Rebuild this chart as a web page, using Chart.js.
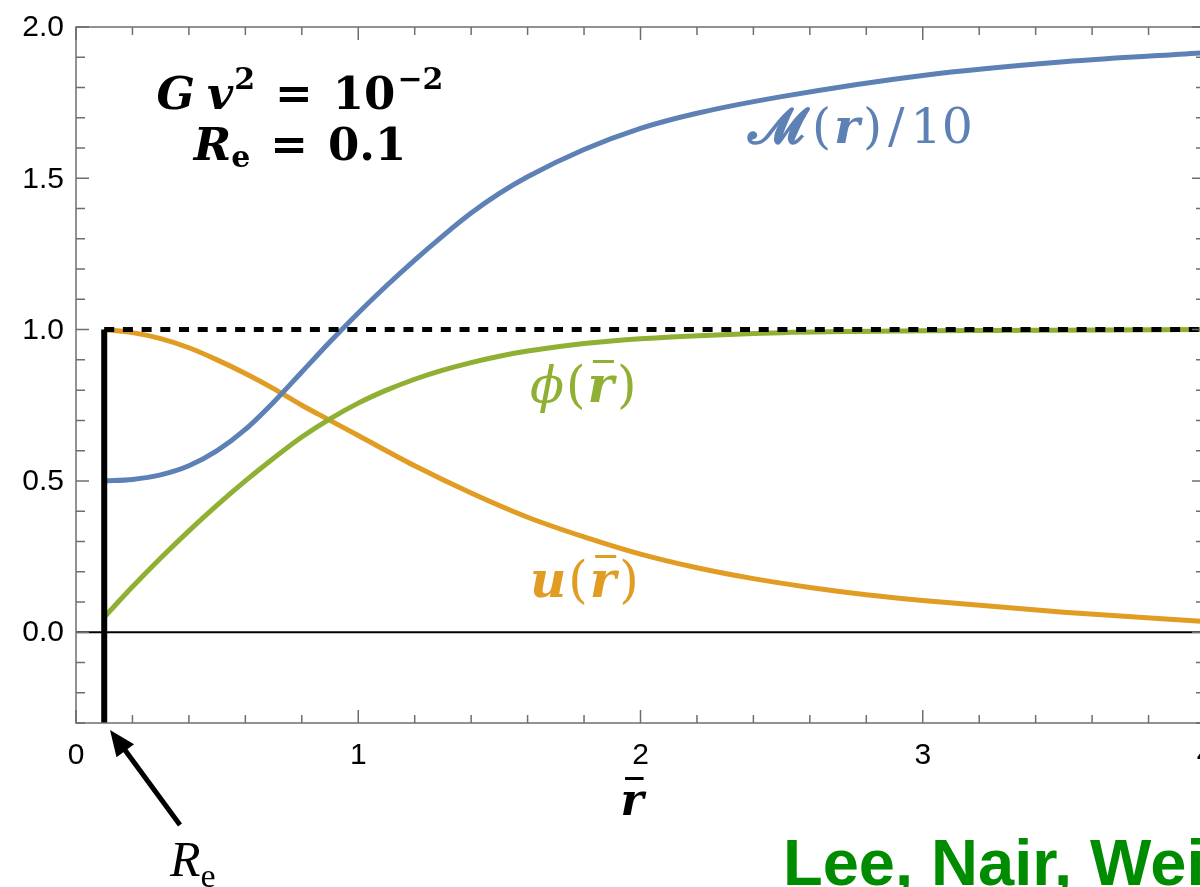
<!DOCTYPE html>
<html lang="en">
<head>
    <meta charset="UTF-8">
    <title>Profiles</title>
    <style>
        html, body {
            margin: 0;
            padding: 0;
            overflow: hidden;
            background: #fff;
        }
        #chartContainer {
            width: 1228px;
            height: 887px;
        }
    </style>
</head>
<body>

<div id="chartContainer">
    <canvas id="myChart"></canvas>
</div>

<script src="https://cdn.jsdelivr.net/npm/chart.js"></script>
<script>
    // data
    const rMass = [0.1, 0.2, 0.3, 0.4, 0.5, 0.6, 0.7, 0.8, 0.9, 1.0, 1.1, 1.2, 1.3, 1.4, 1.5, 1.6, 1.8, 2.0, 2.2, 2.5, 3.0, 3.5, 4.0];
    const massOver10 = [0.5, 0.505, 0.52, 0.55, 0.6, 0.67, 0.76, 0.86, 0.96, 1.055, 1.145, 1.23, 1.31, 1.385, 1.45, 1.505, 1.595, 1.665, 1.715, 1.77, 1.84, 1.885, 1.915];

    const rPhi = [0.1, 0.2, 0.3, 0.4, 0.5, 0.6, 0.7, 0.8, 0.9, 1.0, 1.1, 1.2, 1.3, 1.4, 1.5, 1.6, 1.8, 2.0, 2.5, 3.0, 4.0];
    const phiVals = [0.05, 0.15, 0.245, 0.335, 0.42, 0.5, 0.575, 0.645, 0.705, 0.757, 0.80, 0.836, 0.866, 0.891, 0.912, 0.929, 0.954, 0.97, 0.99, 0.996, 1.0];

    const rU = [0.1, 0.2, 0.3, 0.4, 0.5, 0.6, 0.7, 0.8, 0.9, 1.0, 1.2, 1.4, 1.6, 1.8, 2.0, 2.2, 2.4, 2.6, 2.8, 3.0, 3.5, 4.0];
    const uVals = [1.0, 0.99, 0.97, 0.94, 0.9, 0.855, 0.805, 0.75, 0.70, 0.65, 0.55, 0.46, 0.38, 0.315, 0.258, 0.213, 0.177, 0.148, 0.124, 0.105, 0.066, 0.035];

    // tick labels
    const xTickVals = [0, 1, 2, 3, 4];
    const xTickLabels = ['0', '1', '2', '3', '4'];
    const yTickVals = [0, 0.5, 1, 1.5, 2];
    const yTickLabels = ['0.0', '0.5', '1.0', '1.5', '2.0'];

    const Re = 0.1;
    const xMin = 0, xMax = 4;
    const yMin = -0.3, yMax = 2.0;

    const BLUE = '#5e81b5';
    const ORANGE = '#e19c24';
    const GREEN = '#8fb032';

    function pts(xs, ys) {
        return xs.map((x, i) => ({ x: x, y: ys[i] }));
    }

    // draw a run of text pieces with different fonts
    function drawRich(ctx, x, y, segs, align, color) {
        let total = 0;
        segs.forEach(s => { ctx.font = s.f; s.w = ctx.measureText(s.t).width; total += s.w + (s.dx || 0); });
        let cx = align === 'center' ? x - total / 2 : x;
        ctx.fillStyle = color;
        ctx.textBaseline = 'alphabetic';
        ctx.textAlign = 'left';
        segs.forEach(s => {
            ctx.font = s.f;
            ctx.fillText(s.t, cx, y + (s.dy || 0));
            if (s.bar) {
                ctx.fillRect(cx + s.w * 0.2, y - s.bar, s.w * 0.8, 3);
            }
            cx += s.w + (s.dx || 0);
        });
    }

    const framePlugin = {
        id: 'frame',
        afterDatasetsDraw(chart) {
            const ctx = chart.ctx;
            const xs = chart.scales.x, ys = chart.scales.y;
            const L = xs.left, R = xs.right, T = ys.top, B = ys.bottom;
            ctx.save();
            ctx.strokeStyle = '#6e6e6e';
            ctx.lineWidth = 1.5;
            ctx.strokeRect(L, T, R - L, B - T);
            ctx.beginPath();
            for (let i = 0; i <= 20; i++) {
                const px = xs.getPixelForValue(i * 0.2);
                const len = i % 5 === 0 ? 13 : 8;
                ctx.moveTo(px, B); ctx.lineTo(px, B - len);
                ctx.moveTo(px, T); ctx.lineTo(px, T + len);
            }
            for (let i = -3; i <= 20; i++) {
                const py = ys.getPixelForValue(i * 0.1);
                const len = i % 5 === 0 ? 13 : 9;
                ctx.moveTo(L, py); ctx.lineTo(L + len, py);
                ctx.moveTo(R, py); ctx.lineTo(R - len, py);
            }
            ctx.stroke();

            // tick labels
            ctx.fillStyle = '#000';
            ctx.font = '30px Liberation Sans';
            ctx.textAlign = 'right';
            ctx.textBaseline = 'middle';
            yTickVals.forEach((v, i) => ctx.fillText(yTickLabels[i], L - 12, ys.getPixelForValue(v) + 1));
            ctx.textAlign = 'center';
            ctx.textBaseline = 'top';
            xTickVals.forEach((v, i) => ctx.fillText(xTickLabels[i], xs.getPixelForValue(v), B + 18));
            ctx.restore();
        },
        afterDraw(chart) {
            const ctx = chart.ctx;
            ctx.save();
            const serif = 'DejaVu Serif';
            drawRich(ctx, 300, 109, [
                { t: 'G', f: 'italic bold 45px ' + serif, dx: 12 },
                { t: 'v', f: 'italic bold 45px ' + serif, dx: 1 },
                { t: '2', f: 'bold 30px ' + serif, dy: -20, dx: 20 },
                { t: '=', f: 'bold 45px ' + serif, dx: 20 },
                { t: '10', f: 'bold 45px ' + serif, dx: 2 },
                { t: '\u22122', f: 'bold 30px ' + serif, dy: -20 }
            ], 'center', '#000');
            drawRich(ctx, 300, 160, [
                { t: 'R', f: 'italic bold 45px ' + serif },
                { t: 'e', f: 'bold 30px ' + serif, dy: 7, dx: 20 },
                { t: '=', f: 'bold 45px ' + serif, dx: 20 },
                { t: '0.1', f: 'bold 45px ' + serif }
            ], 'center', '#000');

            drawRich(ctx, 748, 143, [
                { t: '\u{1D4DC}', f: 'bold 50px ' + serif, dx: 8 },
                { t: '(', f: '49px ' + serif, dx: 3 },
                { t: 'r', f: 'italic bold 49px ' + serif, dx: 3 },
                { t: ')', f: '49px ' + serif, dx: 6 },
                { t: '/', f: '49px ' + serif, dx: 6 },
                { t: '10', f: '49px ' + serif }
            ], 'left', BLUE);

            drawRich(ctx, 530, 402, [
                { t: '\u03D5', f: 'italic 50px ' + serif, dx: 2 },
                { t: '(', f: '50px ' + serif, dx: 2 },
                { t: 'r', f: 'italic bold 50px ' + serif, bar: 42, dx: 3 },
                { t: ')', f: '50px ' + serif }
            ], 'left', GREEN);

            drawRich(ctx, 530, 597, [
                { t: 'u', f: 'italic bold 50px ' + serif, dx: 2 },
                { t: '(', f: '50px ' + serif, dx: 2 },
                { t: 'r', f: 'italic bold 50px ' + serif, bar: 42, dx: 3 },
                { t: ')', f: '50px ' + serif }
            ], 'left', ORANGE);

            // axis title
            drawRich(ctx, 632, 815, [
                { t: 'r', f: 'italic bold 44px ' + serif, bar: 38 }
            ], 'center', '#000');

            // R_e pointer
            ctx.strokeStyle = '#000';
            ctx.fillStyle = '#000';
            ctx.lineWidth = 5;
            ctx.beginPath();
            ctx.moveTo(180, 825);
            ctx.lineTo(122, 746);
            ctx.stroke();
            const ang = Math.atan2(730 - 825, 110 - 180);
            ctx.beginPath();
            ctx.moveTo(110, 730);
            ctx.lineTo(110 - 28 * Math.cos(ang - 0.4), 730 - 28 * Math.sin(ang - 0.4));
            ctx.lineTo(110 - 28 * Math.cos(ang + 0.4), 730 - 28 * Math.sin(ang + 0.4));
            ctx.closePath();
            ctx.fill();
            drawRich(ctx, 170, 876, [
                { t: 'R', f: 'italic 50px Liberation Serif' },
                { t: 'e', f: '34px Liberation Serif', dy: 11 }
            ], 'left', '#000');

            drawRich(ctx, 783, 885, [
                { t: 'Lee, Nair, Weinberg', f: 'bold 65px Liberation Sans' }
            ], 'left', '#008c00');
            ctx.restore();
        }
    };

    const ctx = document.getElementById('myChart').getContext('2d');
    const curve = { showLine: true, pointRadius: 0, borderWidth: 5, fill: false, cubicInterpolationMode: 'monotone', order: 2 };

    new Chart(ctx, {
        type: 'scatter',
        data: {
            datasets: [
                Object.assign({ label: 'M/10', data: pts(rMass, massOver10), borderColor: BLUE }, curve),
                Object.assign({ label: 'phi', data: pts(rPhi, phiVals), borderColor: GREEN }, curve),
                Object.assign({ label: 'u', data: pts(rU, uVals), borderColor: ORANGE }, curve),
                { label: 'zero', data: [{ x: xMin, y: 0 }, { x: xMax, y: 0 }], showLine: true, pointRadius: 0, borderColor: '#000', borderWidth: 2, order: 3 },
                { label: 'Re', data: [{ x: Re, y: yMin }, { x: Re, y: 1 }], showLine: true, pointRadius: 0, borderColor: '#000', borderWidth: 6, order: 1 },
                { label: 'one', data: [{ x: Re, y: 1 }, { x: xMax, y: 1 }], showLine: true, pointRadius: 0, borderColor: '#000', borderWidth: 5, borderDash: [10, 8.7], order: 1 }
            ]
        },
        options: {
            responsive: true,
            maintainAspectRatio: false,
            animation: false,
            layout: { padding: { top: 27, right: 23, left: 0, bottom: 0 } },
            plugins: { legend: { display: false }, tooltip: { enabled: false } },
            scales: {
                x: {
                    type: 'linear', min: xMin, max: xMax,
                    grid: { display: false, drawTicks: false },
                    border: { display: false },
                    ticks: { display: false },
                    afterFit: s => { s.height = 164; }
                },
                y: {
                    type: 'linear', min: yMin, max: yMax,
                    grid: { display: false, drawTicks: false },
                    border: { display: false },
                    ticks: { display: false },
                    afterFit: s => { s.width = 76; }
                }
            }
        },
        plugins: [framePlugin]
    });
</script>

</body>
</html>
